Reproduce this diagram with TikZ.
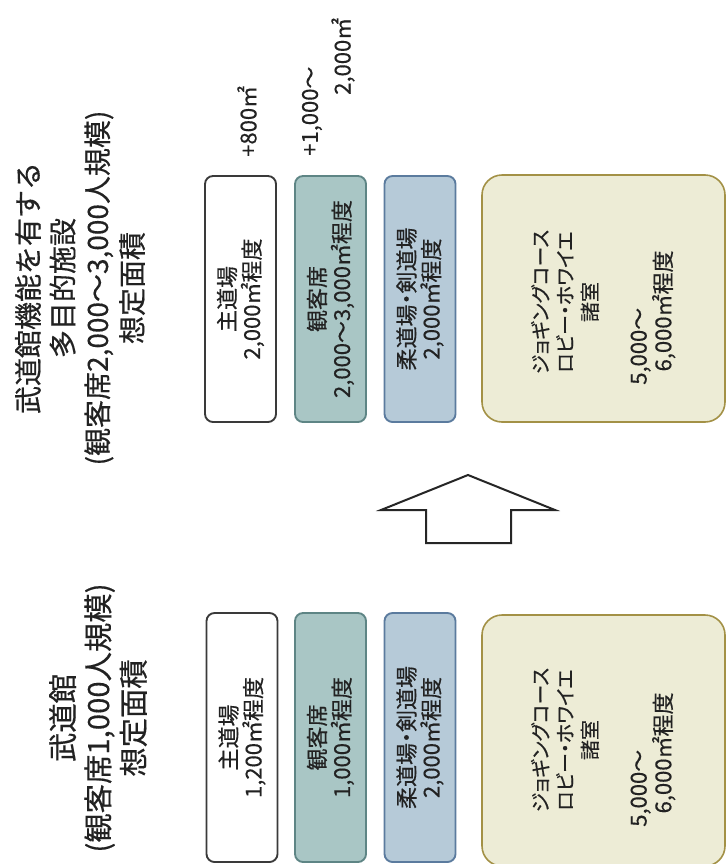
\documentclass[tikz,border=0pt]{standalone}
\usepackage{fontspec}
\setmainfont{Noto Sans CJK JP}[FakeBold=0.4]
\newfontfamily\jpp{Noto Sans CJK JP}[RawFeature=+palt,FakeBold=0.4]
\definecolor{txt}{HTML}{222222}
\definecolor{wbd}{HTML}{3A3A3A}
\definecolor{obf}{HTML}{A9C6C5}
\definecolor{obd}{HTML}{5E8585}
\definecolor{jbf}{HTML}{B6CAD8}
\definecolor{jbd}{HTML}{5B7B9E}
\definecolor{bbf}{HTML}{EDECD6}
\definecolor{bbd}{HTML}{A39146}
\begin{document}
\begin{tikzpicture}[x=0.75pt,y=-0.75pt,
  every node/.style={text=txt},
  boxtext/.style={font=\fontsize{16.5}{18.5}\selectfont},
  katatext/.style={font=\jpp\fontsize{15}{18.5}\selectfont},
  sbox/.style={rotate=90, rounded corners=6pt, line width=1.4pt, minimum height=53.25pt, inner sep=0pt, align=center, boxtext},
  whitebox/.style={sbox, draw=wbd, fill=white},
  obsbox/.style={sbox, draw=obd, fill=obf},
  judobox/.style={sbox, draw=jbd, fill=jbf},
  bigbox/.style={rotate=90, rounded corners=15pt, line width=1.2pt, draw=bbd, fill=bbf, minimum height=182.25pt, inner sep=0pt},
  intext/.style={rotate=90, inner sep=0pt, boxtext},
  titletop/.style={rotate=90, inner sep=0pt, align=center, font=\fontsize{21}{26}\selectfont},
  titlebot/.style={rotate=90, inner sep=0pt, align=center, font=\fontsize{22}{26.5}\selectfont}
]
\useasboundingbox (0,0) rectangle (727,864);
\clip (0,0) rectangle (727,864);
\fill[white] (0,0) rectangle (727,864);

% ---- top (after) group ----
\node[titletop] (ttop) at (80,288) {武道館機能を有する\\多目的施設\\(観客席2,000～3,000人規模)\\想定面積};

\node[intext, anchor=west] (p800) at (247,157) {+800㎡};
\node[intext, anchor=west] (p1000) at (312,156) {+1,000～};
\node[intext, anchor=west] (p2000) at (343,95) {2,000㎡};

\node[whitebox, minimum width=184.5pt] (a1) at (240.5,299) {主道場\\2,000㎡程度};
\node[obsbox, minimum width=184.5pt] (a2) at (330.5,299) {観客席\\2,000～3,000㎡程度};
\node[judobox, minimum width=184.5pt] (a3) at (420,299) {柔道場{\jpp ・}剣道場\\2,000㎡程度};
\node[bigbox, minimum width=185.25pt] (a4) at (603.5,298.5) {};
\node[intext, align=center, katatext] (a4t) at (565,302) {ジョギングコース\\ロビー・ホワイエ\\諸室};
\node[intext, align=left, anchor=west] (a4n) at (653,385) {5,000～\\\hspace*{10pt}6,000㎡程度};

% ---- arrow ----
\draw[line width=1.5pt, draw=black!85, fill=white, line join=miter]
  (468,475) -- (555,510) -- (511,510) -- (511,543) -- (426,543) -- (426,510) -- (381,510) -- cycle;

% ---- bottom (before) group ----
\node[titlebot] (tbot) at (98,718) {武道館\\(観客席1,000人規模)\\想定面積};

\node[whitebox, minimum width=186.75pt] (b1) at (242,737.5) {主道場\\1,200㎡程度};
\node[obsbox, minimum width=186.75pt] (b2) at (330.5,737.5) {観客席\\1,000㎡程度};
\node[judobox, minimum width=186.75pt] (b3) at (420,737.5) {柔道場{\jpp ・}剣道場\\2,000㎡程度};
\node[bigbox, minimum width=188.25pt] (b4) at (603.5,740.5) {};
\node[intext, align=center, katatext] (b4t) at (565,740) {ジョギングコース\\ロビー・ホワイエ\\諸室};
\node[intext, align=left, anchor=west] (b4n) at (653,827) {5,000～\\\hspace*{10pt}6,000㎡程度};
\end{tikzpicture}
\end{document}
